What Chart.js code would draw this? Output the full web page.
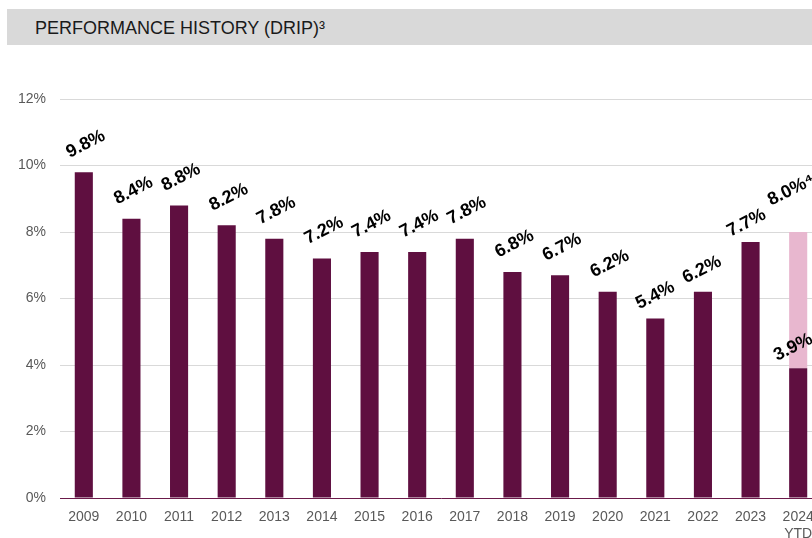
<!DOCTYPE html>
<html>
<head>
<meta charset="utf-8">
<script src="https://cdn.jsdelivr.net/npm/chart.js@4/dist/chart.umd.min.js"></script>
<style>
  html, body { margin: 0; padding: 0; background: #fff; overflow: hidden; width: 812px; height: 538px; }
  #band { position: absolute; left: 7px; top: 9px; width: 820px; height: 36px; background: #d9d9d9; }
  #band span { position: absolute; left: 28px; top: 9px; font: 18px "Liberation Sans", Arial, sans-serif; color: #1a1a1a; }
  #wrap { position: absolute; left: 0; top: 0; width: 830px; height: 538px; }
</style>
</head>
<body>
<div id="band"><span>PERFORMANCE HISTORY (DRIP)³</span></div>
<div id="wrap"><canvas id="chart"></canvas></div>
<script>
const years = ['2009', '2010', '2011', '2012', '2013', '2014', '2015', '2016', '2017', '2018', '2019', '2020', '2021', '2022', '2023', ['2024', 'YTD']];
const annualReturn = [9.8, 8.4, 8.8, 8.2, 7.8, 7.2, 7.4, 7.4, 7.8, 6.8, 6.7, 6.2, 5.4, 6.2, 7.7, 3.9];
const ytdRemainder = [null, null, null, null, null, null, null, null, null, null, null, null, null, null, null, 4.1];
const totalLabels = ['', '', '', '', '', '', '', '', '', '', '', '', '', '', '', '8.0%⁴'];

const darkColor = '#5f0f40';
const lightColor = '#e8b7cf';

// rotated value labels above the bars (a few were nudged by hand in the original)
const liftOverride = { 12: 23, 13: 22, 14: 19, 15: 21 };
const shiftOverride = { 12: 0, 13: -1, 14: -4, 15: -5 };

const valueLabels = {
  id: 'valueLabels',
  afterDatasetsDraw(chart) {
    const ctx = chart.ctx;
    const dark = chart.getDatasetMeta(0).data;
    const light = chart.getDatasetMeta(1).data;
    ctx.save();
    ctx.font = 'bold 18px "Liberation Sans", Arial, sans-serif';
    ctx.fillStyle = '#000';
    ctx.textAlign = 'center';
    ctx.textBaseline = 'middle';
    dark.forEach((bar, i) => {
      const lift = liftOverride[i] ?? 28;
      const dx = shiftOverride[i] ?? 2;
      drawRot(ctx, annualReturn[i].toFixed(1) + '%', bar.x + dx, bar.y - lift);
      if (ytdRemainder[i] != null) {
        drawRot(ctx, totalLabels[i], light[i].x - 7, light[i].y - 42);
      }
    });
    ctx.restore();
  }
};

function drawRot(ctx, text, x, y) {
  ctx.save();
  ctx.translate(x, y);
  ctx.rotate(-27 * Math.PI / 180);
  ctx.fillText(text, 0, 0);
  ctx.restore();
}

new Chart(document.getElementById('chart'), {
  type: 'bar',
  data: {
    labels: years,
    datasets: [
      { data: annualReturn, backgroundColor: darkColor, barPercentage: 0.38, categoryPercentage: 1 },
      { data: ytdRemainder, backgroundColor: lightColor, barPercentage: 0.38, categoryPercentage: 1 }
    ]
  },
  options: {
    responsive: true,
    maintainAspectRatio: false,
    animation: false,
    layout: { padding: { top: 99, right: 8, left: 0, bottom: 0 } },
    plugins: { legend: { display: false }, tooltip: { enabled: false } },
    scales: {
      x: {
        stacked: true,
        grid: { display: false, drawTicks: false },
        border: { display: true, color: '#6b1a4a', width: 1 },
        ticks: { color: '#595959', font: { size: 14, family: '"Liberation Sans", Arial' }, padding: 11, maxRotation: 0, autoSkip: false },
        afterFit(scale) { scale.height = 40; }
      },
      y: {
        stacked: true,
        min: 0,
        max: 12,
        grid: { color: '#d9d9d9', drawTicks: false },
        border: { display: false },
        ticks: { stepSize: 2, color: '#595959', font: { size: 14, family: '"Liberation Sans", Arial' }, padding: 14, callback: v => v + '%' },
        afterFit(scale) { scale.width = 60; }
      }
    }
  },
  plugins: [valueLabels]
});
</script>
</body>
</html>
